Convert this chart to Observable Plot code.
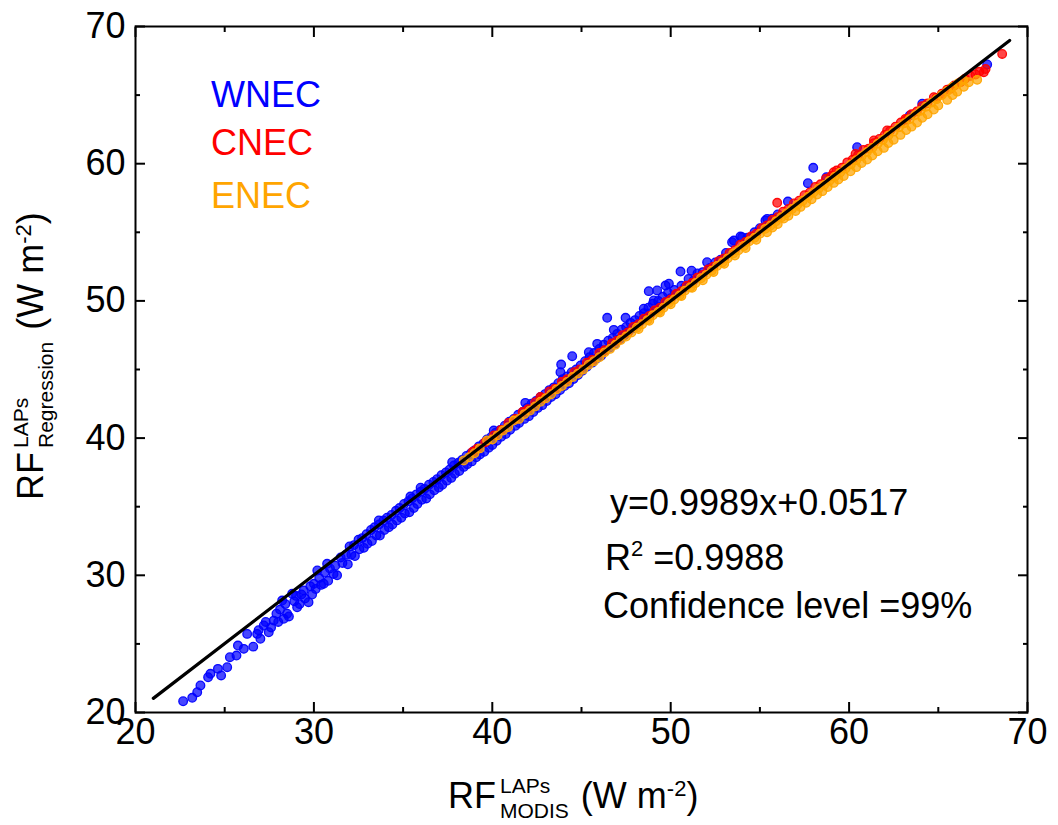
<!DOCTYPE html>
<html><head><meta charset="utf-8">
<script src="https://cdn.jsdelivr.net/npm/d3@7"></script>
<script src="https://cdn.jsdelivr.net/npm/@observablehq/plot@0.6"></script>
<style>
body{margin:0;background:#fff;}
svg{font-family:"Liberation Sans",Arial,Helvetica,sans-serif;}
</style>
</head><body><div id="chart"></div>
<script>
// ---- data ----
const wnec = [
[22.67,20.82],[23.18,21.07],[23.46,21.48],[23.64,21.97],[24.07,22.57],[24.2,22.82],[24.62,23.18],[24.8,22.7],[25.14,23.3],[25.29,24.03],[25.66,24.15],[25.74,24.88],[26.07,24.64],[26.26,25.73],[26.6,24.8],[26.82,25.73],[26.9,26.0],[27.0,25.37],[27.19,26.34],[27.3,26.6],[27.47,25.85],[27.6,26.2],[27.75,26.7],[27.9,27.2],[28.0,26.6],[28.1,27.5],[28.22,28.16],[28.31,26.83],[28.4,27.9],[28.5,27.2],[28.6,27.0],[28.78,28.65],[28.9,28.1],[29.0,28.5],[29.06,27.67],[29.2,27.9],[29.3,28.6],[29.43,28.9],[29.5,28.3],[29.7,28.04],[29.8,29.2],[29.9,28.6],[30.0,29.38],[30.1,29.0],[30.19,30.35],[30.3,29.8],[30.4,29.3],[30.55,29.38],[30.6,30.2],[30.74,30.84],[30.8,29.6],[30.9,30.5],[31.1,30.1],[31.2,30.7],[31.3,30.0],[31.5,31.3],[31.6,30.9],[31.8,31.5],[31.9,30.8],
[32.0,32.1],[32.1,31.5],[32.25,32.2],[32.3,31.4],[32.5,32.6],[32.55,31.9],[32.7,32.7],[32.8,32.0],[32.95,33.0],[33.0,32.3],[33.2,33.3],[33.25,32.5],[33.4,33.5],[33.5,32.9],[33.64,34.0],[33.65,33.7],[33.7,32.9],[33.9,34.0],[33.95,33.3],[34.1,34.2],[34.2,33.5],[34.35,34.4],[34.4,33.7],[34.6,34.7],[34.65,34.0],[34.8,34.9],[34.9,34.2],[35.05,35.2],[35.1,34.5],[35.3,35.4],[35.35,34.6],[35.41,35.74],[35.5,35.6],[35.6,34.9],[35.75,35.9],[35.8,35.2],[35.98,36.38],[36.0,36.1],[36.05,35.5],[36.2,36.3],[36.3,35.6],[36.45,36.6],[36.5,35.9],[36.7,36.8],[36.75,36.2],[36.9,37.0],[37.0,36.4],[37.15,37.3],[37.2,36.6],[37.4,37.5],[37.45,36.9],[37.6,37.7],[37.7,37.1],[37.75,38.24],[37.85,38.0],[37.9,37.4],[38.1,38.2],[38.15,37.6],[38.3,38.4],[38.4,37.9],[38.55,38.7],[38.6,38.1],[38.8,38.9],[38.85,38.3],[39.0,39.1],[39.1,38.6],[39.25,39.4],[39.3,38.8],[39.5,39.6],[39.55,39.0],[39.7,39.9],[39.8,39.3],[39.95,40.1],[40.0,39.5],
[40.08,40.55],[40.2,40.4],[40.25,39.8],[40.45,40.6],[40.5,40.1],[40.7,40.9],[40.75,40.3],[40.95,41.2],[41.0,40.6],[41.2,41.4],[41.3,40.9],[41.45,41.7],[41.5,41.1],[41.7,41.9],[41.85,42.57],[41.8,41.4],[41.95,42.2],[42.05,41.6],[42.2,42.5],[42.3,41.9],[42.45,42.7],[42.55,42.2],[42.7,43.0],[42.8,42.4],[42.95,43.2],[43.05,42.7],[43.2,43.5],[43.3,43.0],[43.45,43.7],[43.55,43.2],[43.82,44.8],[43.86,45.36],[43.7,44.0],[43.8,43.5],[43.95,44.3],[44.05,43.8],[44.2,44.5],[44.3,44.0],[44.48,45.97],[44.45,44.8],[44.55,44.3],[44.7,45.0],[44.8,44.6],[44.95,45.3],
[45.05,44.9],[45.2,45.6],[45.41,46.26],[45.3,45.2],[45.45,45.9],[45.6,45.5],[45.7,46.2],[45.88,46.87],[45.85,45.8],[46.0,46.5],[46.1,46.0],[46.25,46.8],[46.44,48.77],[46.35,46.4],[46.5,47.1],[46.6,46.6],[46.81,47.89],[46.75,47.3],[46.9,46.9],[47.0,47.6],[47.15,47.2],[47.25,47.9],[47.47,48.77],[47.4,47.5],[47.5,48.1],[47.65,47.8],[47.75,48.4],[47.9,48.0],[48.0,48.6],[48.15,48.3],[48.25,48.9],[48.49,49.43],[48.4,48.6],[48.5,49.1],[48.77,50.71],[48.65,48.8],[48.75,49.5],[48.9,49.1],[49.05,50.03],[49.0,49.8],[49.15,49.3],[49.24,50.76],[49.3,50.0],[49.45,49.6],[49.55,50.3],[49.71,51.12],[49.9,51.25],[49.7,49.9],[49.85,50.6],[50.0,50.2],
[50.2,50.8],[50.35,50.5],[50.55,52.14],[50.6,51.1],[50.8,51.0],[51.0,51.6],[51.17,52.2],[51.3,51.5],[51.5,52.0],[51.8,52.1],[52.04,52.82],[52.2,52.4],[52.5,52.8],[52.8,53.0],[53.1,53.5],[53.44,54.28],[53.54,54.4],[53.91,54.69],[54.0,54.64],[54.3,54.6],[54.7,55.0],[55.0,55.3],[55.31,55.86],[55.41,55.98],[55.7,56.0],[56.0,56.3],[56.57,57.24],[57.69,58.58],[57.99,59.7],[58.73,59.02],[60.45,61.2],[63.4,63.51],[64.1,64.37],[67.74,67.23]
];
const cnec = [
[38.9,39.0],[39.15,39.22],[39.6,39.7],[40.1,40.2],[40.5,40.6],[40.9,41.1],[41.3,41.4],[41.7,41.9],[42.0,42.1],[42.4,42.6],[42.7,43.0],[42.8,42.9],[43.2,43.4],[43.5,43.6],[43.9,44.1],[44.2,44.3],[44.6,44.8],[44.9,45.0],[45.3,45.5],[45.6,45.7],[46.0,46.2],[46.3,46.4],[46.7,46.9],[47.0,47.1],[47.3,47.5],[47.6,47.7],[47.9,48.1],[48.2,48.3],[48.5,48.7],[48.8,48.9],[49.1,49.3],[49.4,49.5],[49.7,49.9],[50.0,50.1],[50.3,50.5],[50.6,50.7],[50.9,51.1],[51.2,51.3],[51.5,51.7],[51.8,51.9],[52.1,52.3],[52.4,52.5],[52.7,52.9],[53.0,53.1],[53.3,53.5],[53.6,53.7],[53.9,54.1],[54.2,54.3],[54.5,54.7],[54.8,54.9],[55.1,55.3],[55.4,55.5],[55.7,55.9],[55.97,57.15],[56.0,56.1],[56.3,56.5],[56.6,56.7],[56.9,57.1],[57.2,57.3],[57.5,57.7],[57.8,57.9],[58.1,58.3],[58.4,58.5],[58.7,58.9],[59.0,59.1],[59.14,59.38],[59.3,59.5],[59.6,59.7],[59.9,60.1],[60.2,60.3],[60.36,60.71],[60.5,60.6],[60.8,61.0],[61.1,61.1],[61.39,61.69],[61.4,61.5],[61.7,61.8],[62.0,62.1],[62.13,62.42],[62.3,62.4],[62.6,62.7],[62.9,63.0],[63.16,63.27],[63.2,63.2],[63.5,63.6],[63.8,63.8],[64.1,64.2],[64.4,64.4],[64.75,64.85],[64.9,64.8],[65.2,65.1],[65.5,65.4],[65.68,65.46],[65.9,65.7],[66.24,65.94],[66.5,66.2],[66.8,66.4],[67.09,66.5],[67.3,66.7],[67.55,66.67],[67.65,66.9],[68.58,68.0]
];
const enec = [
[38.4,38.37],[38.7,38.6],[39.0,38.9],[39.3,39.25],[39.71,39.83],[40.0,39.9],[40.3,40.2],[40.6,40.55],[40.9,40.8],[41.2,41.28],[41.5,41.4],[41.8,41.75],[42.1,42.0],[42.4,42.3],[42.7,42.65],[43.0,42.9],[43.3,43.2],[43.6,43.55],[43.9,43.8],[44.2,44.1],[44.5,44.45],[44.8,44.7],[45.1,45.0],[45.4,45.35],[45.7,45.6],[46.0,45.9],[46.3,46.25],[46.6,46.5],[46.9,46.8],[47.2,47.15],[47.5,47.4],[47.8,47.7],[48.1,48.05],[48.4,48.3],[48.7,48.6],[49.0,48.95],[49.3,49.2],[49.6,49.5],[49.9,49.85],[50.2,50.1],[50.5,50.4],[50.8,50.75],[51.1,51.0],[51.4,51.3],[51.7,51.65],[52.0,51.9],[52.3,52.2],[52.6,52.55],[52.9,52.8],[53.2,53.1],[53.5,53.45],[53.8,53.7],[54.1,54.0],[54.4,54.35],[54.7,54.6],[55.0,54.9],[55.3,55.25],[55.6,55.5],[55.9,55.8],[56.2,56.1],[56.5,56.4],[56.8,56.7],[57.1,57.0],[57.4,57.3],[57.7,57.6],[58.0,57.9],[58.3,58.2],[58.6,58.45],[58.9,58.75],[59.2,59.05],[59.5,59.35],[59.8,59.65],[60.1,59.95],[60.4,60.25],[60.7,60.55],[61.0,60.85],[61.3,61.15],[61.6,61.45],[61.9,61.75],[62.2,62.05],[62.5,62.35],[62.8,62.65],[63.1,62.95],[63.4,63.25],[63.7,63.55],[64.0,63.85],[64.3,64.15],[64.6,64.45],[64.9,64.7],[65.2,65.0],[65.5,65.3],[65.8,65.6],[66.1,65.85],[66.4,66.1],
[48.2,47.95],[48.8,48.55],[49.4,49.15],[50.0,49.75],[50.6,50.35],[51.2,50.95],[51.8,51.5],[52.4,52.1],[53.0,52.7],[53.6,53.3],[54.2,53.85],[54.8,54.45],[55.4,55.0],[55.7,55.35],[56.0,55.6],[56.34,56.0],[56.6,56.2],[57.0,56.55],[57.28,56.85],[57.6,57.15],[57.9,57.4],[58.21,57.75],[58.5,58.0],[58.8,58.3],[59.14,58.6],[59.4,58.85],[59.7,59.1],[60.08,59.45],[60.4,59.75],[60.7,60.05],[61.01,60.3],[61.3,60.6],[61.6,60.9],[61.95,61.15],[62.2,61.5],[62.5,61.75],[62.88,62.1],[63.2,62.45],[63.5,62.7],[63.81,63.0],[64.1,63.35],[64.4,63.6],[64.75,63.95],[65.0,64.25],[65.5,64.65],[65.8,65.0],[66.06,65.25],[66.43,65.6],[66.71,65.94],[67.18,66.11]
];
const regions = ["WNEC", "CNEC", "ENEC"];
const regionColors = ["#0000ff", "#ff0000", "#ffa500"];
const majorTicks = [20, 30, 40, 50, 60, 70];
const minorTicks = [25, 35, 45, 55, 65];
const fitSlope = 0.9989, fitIntercept = 0.0517;
const fitX = [21, 69];
const fitLine = fitX.map(x => ({x, y: fitSlope * x + fitIntercept}));
const annotation = ["y=0.9989x+0.0517", "=0.9988", "Confidence level =99%"];

const FONT = "Liberation Sans, Arial, Helvetica, sans-serif";

function dots(data, color) {
  return Plot.dot(data, {x: d => d[0], y: d => d[1], r: 4.3, fill: color, fillOpacity: 0.72,
    stroke: color, strokeOpacity: 0.95, strokeWidth: 1.3});
}
function ticks(axis, anchor) {
  return [
    axis({anchor, ticks: majorTicks, tickSize: -10, tickFormat: () => "", label: null, strokeWidth: 2}),
    axis({anchor, ticks: minorTicks, tickSize: -5, tickFormat: () => "", label: null, strokeWidth: 2})
  ];
}

const chart = Plot.plot({
  width: 1058, height: 825,
  marginLeft: 135, marginRight: 31, marginTop: 26, marginBottom: 113,
  x: {domain: [20, 70]},
  y: {domain: [20, 70]},
  style: {fontFamily: FONT, color: "#000", background: "#fff"},
  marks: [
    dots(wnec, regionColors[0]),
    dots(cnec, regionColors[1]),
    dots(enec, regionColors[2]),
    Plot.line(fitLine, {x: "x", y: "y", stroke: "#000", strokeWidth: 3.2}),
    Plot.frame({stroke: "#000", strokeWidth: 2}),
    ...ticks(Plot.axisX, "bottom"),
    ...ticks(Plot.axisX, "top"),
    ...ticks(Plot.axisY, "left"),
    ...ticks(Plot.axisY, "right"),
    Plot.axisX({anchor: "bottom", ticks: majorTicks, tickSize: 0, tickPadding: 6, fontSize: 36, label: null}),
    Plot.axisY({anchor: "left", ticks: majorTicks, tickSize: 0, tickPadding: 10, fontSize: 36, label: null})
  ]
});
document.getElementById("chart").append(chart);

const svg = d3.select(chart);
const g = svg.append("g").attr("font-family", FONT).attr("fill", "#000").attr("text-anchor", "start");

// legend
regions.forEach((name, i) => {
  g.append("text").attr("x", 211).attr("y", [107, 155, 208][i])
    .attr("font-size", 36).attr("fill", regionColors[i]).text(name);
});

// annotation
g.append("text").attr("x", 610).attr("y", 515).attr("font-size", 36).text(annotation[0]);
const r2 = g.append("text").attr("x", 605).attr("y", 570).attr("font-size", 36);
r2.append("tspan").text("R");
r2.append("tspan").attr("font-size", 22).attr("dy", -14).text("2");
r2.append("tspan").attr("dy", 14).text(" " + annotation[1]);
g.append("text").attr("x", 603).attr("y", 618).attr("font-size", 36).text(annotation[2]);

// axis title builder (RF with stacked super/subscript, then unit)
function axisTitle(parent, sub) {
  const t = parent.append("g");
  const rf = t.append("text").attr("x", 0).attr("y", 0).attr("font-size", 36).text("RF");
  const rfW = rf.node().getComputedTextLength();
  t.append("text").attr("x", rfW + 4).attr("y", -15).attr("font-size", 21).text("LAPs");
  const s = t.append("text").attr("x", rfW + 4).attr("y", 10).attr("font-size", 21).text(sub);
  const sW = s.node().getComputedTextLength();
  const u = t.append("text").attr("x", rfW + 4 + sW + 12).attr("y", 0).attr("font-size", 36);
  u.append("tspan").text("(W m");
  u.append("tspan").attr("font-size", 22).attr("dy", -12).text("-2");
  u.append("tspan").attr("dy", 12).text(")");
  return t;
}
axisTitle(g, "MODIS").attr("transform", "translate(448,808)");
axisTitle(g, "Regression").attr("transform", "translate(43,500) rotate(-90)");
</script>
</body></html>
